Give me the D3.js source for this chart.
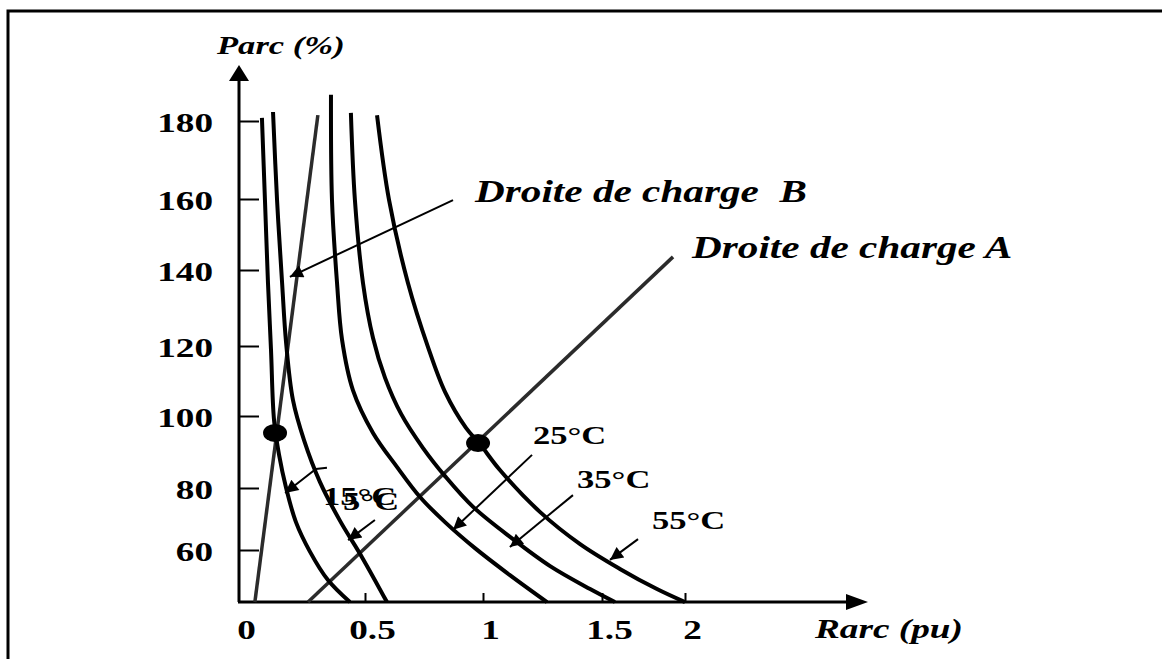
<!DOCTYPE html>
<html>
<head>
<meta charset="utf-8">
<script src="https://cdn.jsdelivr.net/npm/d3@7"></script>
<style>
  body { margin: 0; background: #fff; }
  svg text { font-family: "Liberation Serif", "Times New Roman", serif; font-weight: bold; fill: #000; white-space: pre; }
</style>
</head>
<body>
<svg id="chart" width="1162" height="659"></svg>
<script>
// tick values printed on the (hand drawn) axes
var rarcTicks = [0, 0.5, 1, 1.5, 2];
var parcTicks = [60, 80, 100, 120, 140, 160, 180];

// isotherms, points: [Rarc (pu), Parc (%)]
var curve5C = [[0.091, 180.8], [0.103, 159.7], [0.115, 136.6], [0.127, 118.9], [0.139, 98.9], [0.159, 89.2],
  [0.187, 80.0], [0.226, 69.0], [0.282, 59.4], [0.353, 50.3], [0.440, 43.2]];
var curve15C = [[0.135, 182.3], [0.151, 159.7], [0.171, 136.6], [0.187, 120.8], [0.214, 104.6], [0.258, 93.3],
  [0.321, 81.7], [0.401, 69.4], [0.488, 57.7], [0.593, 43.2]];
var curve25C = [[0.365, 186.7], [0.369, 159.7], [0.389, 136.6], [0.409, 121.6], [0.452, 107.4], [0.534, 95.3],
  [0.636, 85.8], [0.733, 77.1], [0.839, 69.0], [0.966, 60.6], [1.113, 51.9], [1.269, 43.2]];
var curve35C = [[0.444, 182.1], [0.460, 159.7], [0.492, 136.6], [0.534, 122.1], [0.585, 110.9], [0.653, 100.6],
  [0.746, 91.1], [0.839, 83.3], [0.958, 73.9], [1.126, 63.5], [1.282, 54.8], [1.450, 47.4], [1.578, 43.2]];
var curve55C = [[0.551, 181.5], [0.602, 159.7], [0.682, 136.6], [0.767, 119.7], [0.839, 106.9], [0.928, 96.7],
  [0.987, 92.2], [1.071, 85.0], [1.239, 72.3], [1.408, 61.9], [1.608, 53.9], [1.831, 47.4], [2.0, 43.2]];

// load lines and operating points
var loadLineA = [[0.274, 43.2], [1.928, 143.7]];
var loadLineB = [[0.063, 43.2], [0.313, 181.5]];
var operatingPoints = [[0.143, 95.3], [0.979, 92.5]];

var tempLabels = ["15°C", "5°C", "25°C", "35°C", "55°C"];
var lineLabels = ["Droite de charge  B", "Droite de charge A"];

var svg = d3.select("#chart");
var SX = 1.33; // the scan is stretched sideways, text too

// the axes of the drawing are not evenly spaced, so the scales are piecewise
var x = d3.scaleLinear().domain(rarcTicks).range([239, 365, 483, 602, 685]);
var y = d3.scaleLinear().domain(parcTicks).range([550, 488, 416, 346, 270, 199, 121]);
var x0 = 239, y0 = 602;

var defs = svg.append("defs");
defs.append("marker")
  .attr("id", "head")
  .attr("viewBox", "0 0 10 10")
  .attr("refX", 10).attr("refY", 5)
  .attr("markerWidth", 19).attr("markerHeight", 13)
  .attr("markerUnits", "userSpaceOnUse")
  .attr("orient", "auto")
  .append("path").attr("d", "M0,0 L10,5 L0,10 z").attr("fill", "#000");

// frame
svg.append("path")
  .attr("d", "M8,659 V11 H1162")
  .attr("fill", "none").attr("stroke", "#000").attr("stroke-width", 3);

function label(px, py, txt, size, italic, anchor) {
  svg.append("text")
    .attr("transform", "translate(" + px + "," + py + ") scale(" + SX + ",1)")
    .attr("font-size", size)
    .attr("text-anchor", anchor || "start")
    .style("font-style", italic ? "italic" : "normal")
    .text(txt);
}

// axes
var yAxis = svg.append("g")
  .attr("transform", "translate(" + x0 + ",0)")
  .call(d3.axisLeft(y).tickValues(parcTicks).tickSize(-20).tickFormat(d3.format("d")));
var xAxis = svg.append("g")
  .attr("transform", "translate(0," + y0 + ")")
  .call(d3.axisBottom(x).tickValues(rarcTicks).tickSize(-9).tickFormat(function (d) { return d; }));

[yAxis, xAxis].forEach(function (a) {
  a.select(".domain").remove();
  a.selectAll(".tick line").attr("stroke", "#000").attr("stroke-width", 2);
  a.selectAll(".tick text")
    .attr("font-size", 28)
    .attr("font-family", null)
    .attr("fill", "#000");
});
yAxis.selectAll(".tick text")
  .attr("x", null).attr("dy", null)
  .attr("transform", "translate(-26,10) scale(" + SX + ",1)");
xAxis.selectAll(".tick text")
  .attr("y", null).attr("dy", null)
  .attr("transform", "translate(7,37) scale(" + SX + ",1)");
xAxis.selectAll(".tick").filter(function (d) { return d === 0; }).select("line").remove();

svg.append("line").attr("x1", x0).attr("y1", y0).attr("x2", x0).attr("y2", 78)
  .attr("stroke", "#000").attr("stroke-width", 3);
svg.append("path").attr("d", "M" + (x0 - 10) + ",81 L" + x0 + ",65 L" + (x0 + 10) + ",81 z");
svg.append("line").attr("x1", x0 - 1).attr("y1", y0).attr("x2", 850).attr("y2", y0)
  .attr("stroke", "#000").attr("stroke-width", 3);
svg.append("path").attr("d", "M846," + (y0 - 8) + " L868," + y0 + " L846," + (y0 + 8) + " z");

label(217, 54, "Parc (%)", 26, true);
label(815, 638, "Rarc (pu)", 28, true);

var line = d3.line().x(function (d) { return x(d[0]); }).y(function (d) { return y(d[1]); });
var smooth = d3.line().curve(d3.curveCatmullRom.alpha(0.5))
  .x(function (d) { return x(d[0]); }).y(function (d) { return y(d[1]); });

// load lines
[loadLineA, loadLineB].forEach(function (l) {
  svg.append("path").attr("d", line(l))
    .attr("fill", "none").attr("stroke", "#2b2b2b").attr("stroke-width", 3.5);
});

// isotherms
[curve5C, curve15C, curve25C, curve35C, curve55C].forEach(function (c) {
  svg.append("path").attr("d", smooth(c))
    .attr("fill", "none").attr("stroke", "#000").attr("stroke-width", 4);
});

svg.selectAll(".pt").data(operatingPoints).enter().append("ellipse")
  .attr("cx", function (d) { return x(d[0]); })
  .attr("cy", function (d) { return y(d[1]); })
  .attr("rx", 12).attr("ry", 9).attr("fill", "#000");

// leaders with arrow heads
var leaders = [
  [[0.873, 159.7], [0.202, 138.2]],                 // Droite B
  [[0.349, 85.6], [0.305, 85.3], [0.183, 78.4]],    // 15°C
  [[0.542, 69.7], [0.433, 63.2]],                   // 5°C
  [[1.206, 89.2], [0.873, 66.5]],                   // 25°C
  [[1.378, 77.7], [1.113, 61.0]],                   // 35°C
  [[1.717, 63.5], [1.548, 56.8]]                    // 55°C
];
leaders.forEach(function (l) {
  svg.append("path").attr("d", line(l))
    .attr("fill", "none").attr("stroke", "#000").attr("stroke-width", 2)
    .attr("marker-end", "url(#head)");
});

label(x(0.966), y(159.2), lineLabels[0], 31, true);
label(x(2.042), y(143.4), lineLabels[1], 31, true);
label(x(0.333), y(74.5), tempLabels[0], 26, false);
label(x(0.413), y(72.9), tempLabels[1], 26, false);
label(x(1.210), y(92.2), tempLabels[2], 26, false);
label(x(1.395), y(80.0), tempLabels[3], 26, false);
label(x(1.801), y(66.8), tempLabels[4], 26, false);
</script>
</body>
</html>
